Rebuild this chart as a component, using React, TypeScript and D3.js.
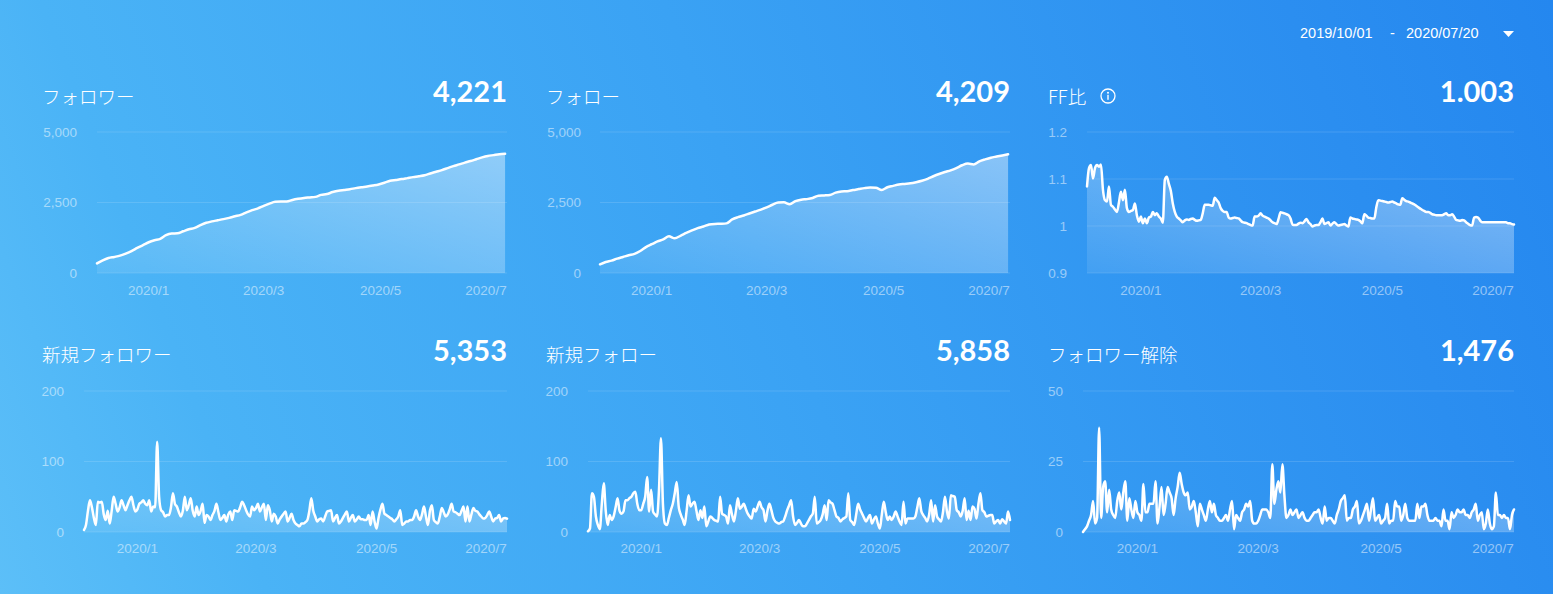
import React from "react";
import * as d3 from "d3";

// ---------- data ----------
const rangeStart = "2019/10/01";
const rangeEnd = "2020/07/20";
const startDate = new Date(2019, 11, 5); // first plotted day
const dayCount = 215;
const cumStepDays = 3;

const titles = ["フォロワー", "フォロー", "FF比", "新規フォロワー", "新規フォロー", "フォロワー解除"];
const totals = ["4,221", "4,209", "1.003", "5,353", "5,858", "1,476"];

const followerTicks = [0, 2500, 5000];
const ffTicks = [0.9, 1.0, 1.1, 1.2];
const newTicks = [0, 100, 200];
const unfollowTicks = [0, 25, 50];

// cumulative, one value every 3 days
const followers = [
  343, 450, 530, 570, 615, 690, 780, 890, 990, 1090,
  1160, 1210, 1340, 1400, 1410, 1480, 1550, 1600, 1700, 1780,
  1830, 1870, 1910, 1955, 2010, 2060, 2150, 2230, 2290, 2380,
  2460, 2525, 2535, 2535, 2590, 2630, 2660, 2680, 2700, 2770,
  2800, 2870, 2920, 2945, 2970, 3010, 3040, 3065, 3100, 3140,
  3200, 3270, 3300, 3330, 3365, 3400, 3430, 3465, 3530, 3590,
  3650, 3720, 3790, 3850, 3915, 3970, 4035, 4100, 4150, 4180,
  4210, 4225,
];
const follows = [
  307, 390, 440, 510, 570, 630, 680, 780, 920, 1020,
  1120, 1190, 1300, 1230, 1320, 1420, 1510, 1590, 1650, 1720,
  1740, 1745, 1760, 1900, 1980, 2040, 2110, 2180, 2250, 2330,
  2420, 2500, 2505, 2440, 2550, 2600, 2620, 2660, 2740, 2750,
  2765, 2850, 2890, 2900, 2940, 2975, 3010, 3030, 3025, 2945,
  3040, 3090, 3140, 3160, 3180, 3220, 3270, 3340, 3430, 3510,
  3580, 3640, 3720, 3820, 3880, 3850, 3960, 4030, 4090, 4130,
  4170, 4209,
];

// daily
const ffRatio = [
  1.084, 1.123, 1.13, 1.101, 1.123, 1.13, 1.126, 1.131, 1.077, 1.055,
  1.052, 1.084, 1.045, 1.041, 1.035, 1.03, 1.05, 1.073, 1.055, 1.077,
  1.038, 1.03, 1.032, 1.034, 1.048, 1.023, 1.009, 1.02, 1.006, 1.016,
  1.006, 1.018, 1.02, 1.03, 1.023, 1.027, 1.02, 1.016, 1.007, 1.098,
  1.105, 1.09, 1.075, 1.048, 1.03, 1.02, 1.016, 1.012, 1.008, 1.012,
  1.014, 1.013, 1.015, 1.016, 1.013, 1.011, 1.012, 1.013, 1.027, 1.045,
  1.045, 1.045, 1.044, 1.043, 1.06, 1.055, 1.05, 1.038, 1.032, 1.03,
  1.03, 1.018, 1.016, 1.017, 1.018, 1.017, 1.016, 1.012, 1.008, 1.007,
  1.006, 1.004, 1.002, 1.001, 1.02, 1.02, 1.022, 1.027, 1.022, 1.02,
  1.018, 1.016, 1.012, 1.008, 1.006, 1.004, 1.015, 1.029, 1.028, 1.027,
  1.025, 1.023, 1.016, 1.003, 1.002, 1.002, 1.005, 1.007, 1.006, 1.01,
  1.015, 1.008, 1.004, 0.999, 1.001, 1.002, 1.002, 1.008, 1.016, 1.004,
  1.006, 1.008, 1.001, 1.005, 1.008, 1.004, 1.001, 1.002, 1.003, 1.004,
  1.001, 0.999, 1.018, 1.016, 1.015, 1.014, 1.013, 1.01, 1.006, 1.025,
  1.022, 1.018, 1.017, 1.016, 1.016, 1.04, 1.055, 1.054, 1.053, 1.052,
  1.051, 1.05, 1.051, 1.052, 1.05, 1.048, 1.046, 1.045, 1.059, 1.056,
  1.053, 1.052, 1.05, 1.048, 1.046, 1.043, 1.04, 1.037, 1.034, 1.032,
  1.03, 1.03, 1.028, 1.025, 1.024, 1.023, 1.023, 1.023, 1.023, 1.025,
  1.027, 1.023, 1.023, 1.025, 1.02, 1.013, 1.012, 1.011, 1.013, 1.012,
  1.008, 1.005, 1.002, 1.001, 1.018, 1.019, 1.018, 1.012, 1.008, 1.008,
  1.008, 1.008, 1.008, 1.008, 1.008, 1.008, 1.008, 1.008, 1.008, 1.008,
  1.008, 1.006, 1.006, 1.004, 1.003,
];
const newFollowers = [
  3, 10, 30, 45, 35, 20, 10, 43, 42, 43,
  25, 17, 30, 12, 30, 50, 40, 29, 35, 45,
  38, 31, 38, 45, 50, 38, 29, 32, 40, 42,
  45, 40, 38, 45, 29, 36, 35, 128, 50, 31,
  28, 22, 24, 24, 35, 55, 40, 36, 28, 22,
  30, 50, 31, 38, 48, 30, 22, 36, 24, 30,
  40, 13, 24, 22, 17, 24, 30, 40, 28, 17,
  20, 24, 15, 25, 29, 17, 31, 30, 29, 35,
  43, 38, 31, 25, 22, 36, 31, 34, 40, 29,
  35, 40, 17, 38, 31, 15, 26, 22, 12, 18,
  22, 26, 29, 15, 20, 26, 17, 12, 10, 8,
  12, 12, 14, 17, 30, 48, 30, 22, 15, 18,
  19, 15, 22, 29, 30, 31, 15, 20, 24, 12,
  15, 20, 25, 29, 15, 20, 24, 15, 18, 22,
  18, 18, 17, 17, 24, 10, 29, 15, 5, 20,
  32, 40, 26, 24, 22, 20, 18, 15, 18, 22,
  31, 10, 12, 15, 15, 17, 17, 22, 31, 22,
  17, 25, 36, 22, 10, 30, 38, 17, 14, 12,
  22, 34, 28, 22, 25, 32, 40, 29, 28, 26,
  24, 30, 36, 15, 36, 15, 25, 34, 30, 29,
  25, 22, 19, 20, 24, 29, 22, 15, 19, 20,
  24, 15, 19, 20, 19,
];
const newFollows = [
  1, 5, 55, 50, 22, 10, 4, 40, 69, 30,
  10, 24, 17, 22, 35, 48, 30, 26, 29, 45,
  45, 48, 50, 55, 57, 40, 31, 31, 40, 50,
  78, 29, 60, 29, 25, 22, 60, 133, 40, 12,
  10, 20, 31, 40, 55, 71, 36, 25, 18, 10,
  30, 52, 36, 40, 43, 30, 17, 31, 20, 36,
  8, 15, 22, 20, 17, 16, 15, 50, 26, 24,
  22, 12, 38, 25, 15, 30, 48, 33, 36, 40,
  33, 26, 22, 19, 33, 29, 36, 43, 35, 31,
  15, 30, 40, 31, 20, 15, 13, 12, 14, 15,
  22, 31, 38, 45, 22, 10, 13, 17, 12, 8,
  8, 12, 17, 22, 26, 50, 12, 14, 17, 25,
  38, 17, 45, 42, 40, 31, 22, 20, 15, 18,
  20, 22, 55, 17, 14, 10, 25, 40, 32, 26,
  20, 15, 20, 24, 12, 18, 22, 12, 5, 25,
  43, 28, 17, 22, 17, 22, 29, 22, 15, 10,
  43, 12, 19, 19, 19, 19, 22, 35, 48, 30,
  24, 20, 15, 25, 45, 15, 38, 22, 18, 15,
  28, 50, 30, 19, 52, 51, 50, 31, 28, 22,
  30, 48, 17, 30, 17, 36, 33, 19, 40, 55,
  31, 28, 22, 23, 24, 24, 12, 15, 17, 12,
  18, 15, 12, 29, 17,
];
const unfollows = [
  0, 1, 2, 4, 6, 11, 3, 5, 37, 5,
  16, 18, 7, 15, 8, 6, 5, 11, 14, 8,
  14, 18, 4, 12, 8, 5, 11, 7, 6, 4,
  17, 7, 7, 10, 10, 10, 18, 3, 9, 16,
  6, 10, 16, 14, 12, 6, 12, 16, 21, 17,
  14, 13, 14, 8, 9, 11, 7, 2, 10, 8,
  6, 4, 8, 11, 7, 10, 6, 5, 4, 4,
  5, 6, 4, 8, 11, 1, 6, 5, 4, 7,
  8, 10, 9, 11, 4, 3, 3, 4, 6, 8,
  8, 8, 7, 5, 24, 10, 15, 18, 14, 24,
  13, 5, 6, 8, 6, 7, 8, 5, 6, 7,
  5, 4, 4, 5, 6, 7, 7, 8, 5, 3,
  9, 4, 5, 5, 4, 3, 6, 8, 11, 12,
  13, 4, 5, 5, 8, 9, 11, 3, 4, 6,
  8, 10, 4, 8, 12, 4, 5, 6, 3, 4,
  5, 10, 3, 4, 4, 11, 9, 9, 4, 6,
  10, 5, 4, 4, 4, 4, 10, 5, 9, 9,
  10, 6, 4, 4, 4, 5, 4, 4, 2, 8,
  4, 4, 1, 7, 5, 6, 8, 7, 7, 8,
  6, 6, 5, 7, 8, 10, 4, 6, 7, 1,
  3, 8, 3, 1, 2, 14, 6, 6, 5, 6,
  5, 5, 1, 6, 8,
];

// ---------- layout ----------
type PanelCfg = {
  title: string;
  total: string;
  values: number[];
  step: number;
  ticks: number[];
  fmt: (v: number) => string;
  titleX: number;
  px0: number;
  px1: number;
  yLabelRight: number;
  top: boolean;
  info?: boolean;
};

const comma = d3.format(",");
const ffFmt = (v: number) => String(Math.round(v * 10) / 10);

const panels: PanelCfg[] = [
  { title: titles[0], total: totals[0], values: followers, step: cumStepDays, ticks: followerTicks, fmt: comma, titleX: 42, px0: 97, px1: 507, yLabelRight: 77, top: true },
  { title: titles[1], total: totals[1], values: follows, step: cumStepDays, ticks: followerTicks, fmt: comma, titleX: 546, px0: 600, px1: 1010, yLabelRight: 581, top: true },
  { title: titles[2], total: totals[2], values: ffRatio, step: 1, ticks: ffTicks, fmt: ffFmt, titleX: 1048, px0: 1087, px1: 1514, yLabelRight: 1067, top: true, info: true },
  { title: titles[3], total: totals[3], values: newFollowers, step: 1, ticks: newTicks, fmt: comma, titleX: 42, px0: 84, px1: 507, yLabelRight: 64, top: false },
  { title: titles[4], total: totals[4], values: newFollows, step: 1, ticks: newTicks, fmt: comma, titleX: 546, px0: 588, px1: 1010, yLabelRight: 568, top: false },
  { title: titles[5], total: totals[5], values: unfollows, step: 1, ticks: unfollowTicks, fmt: comma, titleX: 1048, px0: 1083, px1: 1514, yLabelRight: 1063, top: false },
];

const W = 1553;
const H = 594;
const labelColor = "rgba(255,255,255,0.5)";
const gridColor = "rgba(255,255,255,0.13)";
const cjk = "'Noto Sans CJK JP', 'Noto Sans', sans-serif";
const numFont = "Lato, 'Open Sans', sans-serif";
const axisFont = "'Liberation Sans', Arial, sans-serif";

function Panel({ cfg, idx }: { cfg: PanelCfg; idx: number }) {
  const plotTop = cfg.top ? 132 : 391;
  const plotBottom = cfg.top ? 273 : 532;
  const titleBase = cfg.top ? 104 : 362;
  const totalBase = cfg.top ? 102 : 361;
  const xLabelBase = cfg.top ? 295 : 553;

  const endDate = d3.timeDay.offset(startDate, dayCount - 1);
  const x = d3.scaleTime().domain([startDate, endDate]).range([cfg.px0, cfg.px1]);
  const y = d3
    .scaleLinear()
    .domain([cfg.ticks[0], cfg.ticks[cfg.ticks.length - 1]])
    .range([plotBottom, plotTop]);

  const pts = cfg.values.map((v, i) => ({ d: d3.timeDay.offset(startDate, i * cfg.step), v }));

  const line = d3
    .line<{ d: Date; v: number }>()
    .x((p) => x(p.d))
    .y((p) => y(p.v))
    .curve(d3.curveMonotoneX);
  const area = d3
    .area<{ d: Date; v: number }>()
    .x((p) => x(p.d))
    .y0(plotBottom)
    .y1((p) => y(p.v))
    .curve(d3.curveMonotoneX);

  const xTicks = x.ticks(d3.timeMonth.every(2)!);
  const gid = `areaGrad${idx}`;

  return (
    <g>
      <defs>
        <linearGradient id={gid} x1="0" y1="1" x2="1" y2="0">
          <stop offset="0" stopColor="#fff" stopOpacity={0.08} />
          <stop offset="1" stopColor="#fff" stopOpacity={0.42} />
        </linearGradient>
      </defs>
      <text x={cfg.titleX} y={titleBase} fill="#fff" fontFamily={cjk} fontWeight={300} fontSize={18.5}>
        {cfg.title}
      </text>
      {cfg.info && (
        <g transform={`translate(${cfg.titleX + 60},${titleBase - 8})`}>
          <circle r={7} fill="none" stroke="#fff" strokeWidth={1.3} />
          <circle cx={0} cy={-3.3} r={1} fill="#fff" />
          <rect x={-0.7} y={-1.2} width={1.4} height={5} fill="#fff" />
        </g>
      )}
      <text x={cfg.px1} y={totalBase} fill="#fff" fontFamily={numFont} fontWeight={700} fontSize={29} textAnchor="end">
        {cfg.total}
      </text>
      {cfg.ticks.map((t) => (
        <g key={t}>
          <line x1={cfg.px0} x2={cfg.px1} y1={y(t)} y2={y(t)} stroke={gridColor} strokeWidth={1} />
          <text
            x={cfg.yLabelRight}
            y={y(t)}
            dy="0.35em"
            textAnchor="end"
            fill={labelColor}
            fontFamily={axisFont}
            fontSize={13.5}
          >
            {cfg.fmt(t)}
          </text>
        </g>
      ))}
      <path d={area(pts) || ""} fill={`url(#${gid})`} />
      <path d={line(pts) || ""} fill="none" stroke="#fff" strokeWidth={2.5} strokeLinejoin="round" strokeLinecap="round" />
      {xTicks.map((t) => {
        const label = `${t.getFullYear()}/${t.getMonth() + 1}`;
        const half = 21;
        const cx = Math.min(x(t), cfg.px1 - half);
        return (
          <text
            key={label}
            x={cx}
            y={xLabelBase}
            textAnchor="middle"
            fill={labelColor}
            fontFamily={axisFont}
            fontSize={13.5}
          >
            {label}
          </text>
        );
      })}
    </g>
  );
}

export default function App() {
  return (
    <div style={{ position: "absolute", left: 0, top: 0, width: W, height: H }}>
      <svg width={W} height={H} style={{ display: "block" }}>
        <defs>
          <linearGradient id="bgGrad" gradientUnits="userSpaceOnUse" x1={0} y1={H} x2={W} y2={0}>
            <stop offset="0" stopColor="#5cbff8" />
            <stop offset="0.15" stopColor="#4ab3f6" />
            <stop offset="0.5" stopColor="#3aa2f4" />
            <stop offset="0.85" stopColor="#2b8ef0" />
            <stop offset="1" stopColor="#2487ef" />
          </linearGradient>
        </defs>
        <rect x={0} y={0} width={W} height={H} fill="url(#bgGrad)" />
        <g fontFamily={axisFont} fill="#fff" fontSize={14.5}>
          <text x={1300} y={38}>{rangeStart}</text>
          <text x={1390} y={38}>-</text>
          <text x={1406} y={38}>{rangeEnd}</text>
        </g>
        <path d="M1503,31 L1514,31 L1508.5,37 Z" fill="#fff" />
        {panels.map((p, i) => (
          <Panel key={i} cfg={p} idx={i} />
        ))}
      </svg>
    </div>
  );
}
